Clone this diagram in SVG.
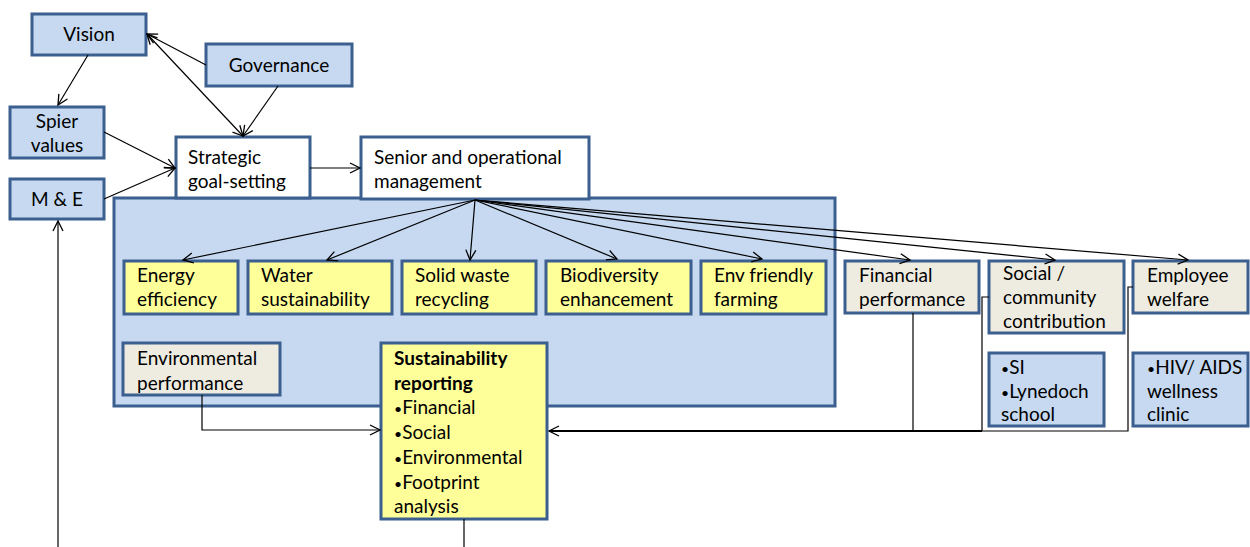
<svg xmlns="http://www.w3.org/2000/svg" width="1250" height="547" viewBox="0 0 1250 547">
<defs>
<marker id="ah" markerUnits="userSpaceOnUse" markerWidth="14" markerHeight="14" refX="11" refY="6" orient="auto-start-reverse" viewBox="0 0 14 12">
<path d="M1,1 L11,6 L1,11" fill="none" stroke="#000" stroke-width="1.3"/>
</marker>
<style>
.blue{fill:#c6d9f1;stroke:#3b5f8e;stroke-width:3}
.yel{fill:#ffff99;stroke:#3b5f8e;stroke-width:3}
.bei{fill:#eeece1;stroke:#3b5f8e;stroke-width:3}
.wht{fill:#ffffff;stroke:#3b5f8e;stroke-width:3}
text{font-family:Lato,"Open Sans","Liberation Sans",sans-serif;font-size:19px;fill:#000}
.c{text-anchor:middle}
.b{font-weight:bold}
.bu{font-size:14px}
.ln{fill:none;stroke:#000;stroke-width:1.2}
.lk{fill:none;stroke:#000;stroke-width:2}
</style>
</defs>
<rect width="1250" height="547" fill="#fff"/>

<g id="container"><rect class="blue" x="114" y="198" width="721" height="208"/></g>

<g id="vision"><rect class="blue" x="32" y="14" width="114" height="41"/><text class="c" x="89" y="41">Vision</text></g>
<g id="governance"><rect class="blue" x="206" y="44" width="146" height="42"/><text class="c" x="279" y="72">Governance</text></g>
<g id="spier"><rect class="blue" x="10" y="107" width="94" height="51"/><text class="c" x="57" y="128">Spier</text><text class="c" x="57" y="152">values</text></g>
<g id="me"><rect class="blue" x="10" y="179" width="94" height="40"/><text class="c" x="57" y="206">M &amp; E</text></g>
<g id="strategic"><rect class="wht" x="176" y="137" width="134" height="61"/><text x="188" y="164">Strategic</text><text x="188" y="188">goal-setting</text></g>
<g id="senior"><rect class="wht" x="361" y="137" width="228" height="62"/><text x="374" y="164">Senior and operational</text><text x="374" y="188">management</text></g>

<g id="energy"><rect class="yel" x="124" y="261" width="114" height="53"/><text x="137" y="282">Energy</text><text x="137" y="306">efficiency</text></g>
<g id="water"><rect class="yel" x="248" y="261" width="144" height="53"/><text x="261" y="282">Water</text><text x="261" y="306">sustainability</text></g>
<g id="solid"><rect class="yel" x="402" y="261" width="134" height="53"/><text x="415" y="282">Solid waste</text><text x="415" y="306">recycling</text></g>
<g id="biodiversity"><rect class="yel" x="546" y="261" width="145" height="53"/><text x="560" y="282">Biodiversity</text><text x="560" y="306">enhancement</text></g>
<g id="envfriendly"><rect class="yel" x="701" y="261" width="125" height="53"/><text x="714" y="282">Env friendly</text><text x="714" y="306">farming</text></g>

<g id="financial"><rect class="bei" x="845" y="261" width="134" height="52"/><text x="859" y="282">Financial</text><text x="859" y="306">performance</text></g>
<g id="social"><rect class="bei" x="989" y="261" width="135" height="72"/><text x="1003" y="280">Social /</text><text x="1003" y="304">community</text><text x="1003" y="328">contribution</text></g>
<g id="employee"><rect class="bei" x="1133" y="261" width="115" height="52"/><text x="1147" y="282">Employee</text><text x="1147" y="306">welfare</text></g>
<g id="si"><rect class="blue" x="989" y="353" width="115" height="73"/><text x="1001" y="374"><tspan class="bu">•</tspan>SI</text><text x="1001" y="398"><tspan class="bu">•</tspan>Lynedoch</text><text x="1001" y="421">school</text></g>
<g id="hiv"><rect class="blue" x="1133" y="353" width="115" height="73"/><text x="1147" y="374"><tspan class="bu">•</tspan>HIV/ AIDS</text><text x="1147" y="398">wellness</text><text x="1147" y="421">clinic</text></g>

<g id="envperf"><rect class="bei" x="123" y="343" width="157" height="52"/><text x="137" y="365">Environmental</text><text x="137" y="390">performance</text></g>
<g id="reporting"><rect class="yel" x="381" y="343" width="166" height="176"/>
<text class="b" x="394" y="365">Sustainability</text><text class="b" x="394" y="390">reporting</text>
<text x="394" y="414"><tspan class="bu">•</tspan>Financial</text><text x="394" y="439"><tspan class="bu">•</tspan>Social</text><text x="394" y="464"><tspan class="bu">•</tspan>Environmental</text><text x="394" y="489"><tspan class="bu">•</tspan>Footprint</text><text x="394" y="513">analysis</text></g>

<g id="connectors">
<path class="ln" d="M88,55 L58,105" marker-end="url(#ah)"/>
<path class="ln" d="M206,65 L147,34" marker-end="url(#ah)"/>
<path class="ln" d="M147,34 L243,136" marker-start="url(#ah)" marker-end="url(#ah)"/>
<path class="ln" d="M278,86 L243,136" marker-end="url(#ah)"/>
<path class="ln" d="M104,132 L175,168" marker-end="url(#ah)"/>
<path class="ln" d="M104,199 L175,168" marker-end="url(#ah)"/>
<path class="ln" d="M310,168 L360,168" marker-end="url(#ah)"/>
<path class="ln" d="M475,200 L183,260" marker-end="url(#ah)"/>
<path class="ln" d="M475,200 L327,260" marker-end="url(#ah)"/>
<path class="ln" d="M475,200 L470,260" marker-end="url(#ah)"/>
<path class="ln" d="M475,200 L617,259" marker-end="url(#ah)"/>
<path class="ln" d="M475,200 L762,259" marker-end="url(#ah)"/>
<path class="ln" d="M475,200 L910,260" marker-end="url(#ah)"/>
<path class="ln" d="M475,200 L1055,260" marker-end="url(#ah)"/>
<path class="ln" d="M475,200 L1188,260" marker-end="url(#ah)"/>
<path class="ln" d="M202,395 L202,430 L380,430" marker-end="url(#ah)"/>
<path class="lk" d="M982,431 L549,431" marker-end="url(#ah)"/>
<path class="ln" d="M913,313 L913,431"/>
<path class="ln" d="M989,297 L982,297 L982,431 L1128,431 L1128,287 L1133,287"/>
<path class="ln" d="M58,547 L58,221" marker-end="url(#ah)"/>
<path class="ln" d="M464,519 L464,547"/>
</g>
</svg>
